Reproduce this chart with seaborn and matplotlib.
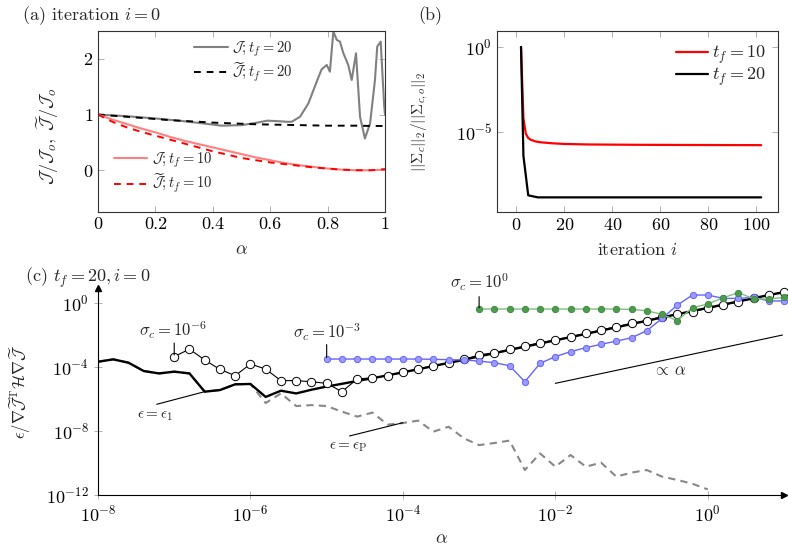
import matplotlib
matplotlib.use("Agg")
import matplotlib.pyplot as plt
import numpy as np
import seaborn as sns

# ---- panel (a): cost along the line search, iteration 0 ----
alpha_a = [0.0, 0.05, 0.1, 0.15, 0.2, 0.25, 0.3, 0.35, 0.4, 0.45, 0.5,
           0.55, 0.6, 0.65, 0.7, 0.75, 0.8, 0.85, 0.9, 0.95, 1.0]
J10 = [1.0, 0.91, 0.83, 0.75, 0.68, 0.60, 0.53, 0.47, 0.41, 0.35, 0.29,
       0.23, 0.18, 0.13, 0.09, 0.06, 0.03, 0.01, 0.0, 0.0, 0.01]
Jt10 = [1.0, 0.87, 0.77, 0.69, 0.62, 0.55, 0.48, 0.41, 0.34, 0.28, 0.22,
        0.18, 0.14, 0.11, 0.08, 0.05, 0.03, 0.01, 0.0, 0.0, 0.02]
Jt20 = [1.0, 0.98, 0.96, 0.94, 0.92, 0.90, 0.885, 0.87, 0.855, 0.845, 0.835,
        0.825, 0.82, 0.815, 0.81, 0.805, 0.80, 0.80, 0.80, 0.795, 0.795]
alpha_J20 = [0.0, 0.1, 0.2, 0.3, 0.4, 0.43, 0.5, 0.55, 0.59, 0.63, 0.66, 0.675,
             0.704, 0.733, 0.762, 0.779, 0.797, 0.808, 0.82, 0.832, 0.843,
             0.855, 0.872, 0.884, 0.899, 0.913, 0.93, 0.948, 0.965, 0.973,
             0.985, 0.997, 1.0]
J20 = [1.0, 0.97, 0.93, 0.88, 0.82, 0.80, 0.81, 0.85, 0.89, 0.88, 0.87, 0.87,
       0.96, 1.2, 1.59, 1.81, 1.89, 1.77, 2.49, 2.34, 2.31,
       2.1, 1.89, 1.62, 2.1, 0.96, 0.57, 0.84, 1.62, 2.22,
       2.31, 1.17, 1.0]
a_xticks = [0, 0.2, 0.4, 0.6, 0.8, 1.0]
a_xticklabels = ["0", "0.2", "0.4", "0.6", "0.8", "1"]
a_yticks = [0, 1, 2]

# ---- panel (b): normalised control norm per iteration (log10) ----
iter_10 = [2, 3, 4, 5, 6, 8, 10, 15, 20, 30, 50, 70, 102]
sig10_exp = [0.0, -4.2, -5.1, -5.35, -5.45, -5.55, -5.6, -5.66, -5.7,
             -5.73, -5.75, -5.76, -5.77]
iter_20 = [2, 3, 5, 9, 102]
sig20_exp = [0.0, -6.4, -8.72, -8.84, -8.84]
b_xticks = [0, 20, 40, 60, 80, 100]

# ---- panel (c): error estimates vs alpha (log10 values) ----
la_main = [-8.0, -7.8, -7.6, -7.4, -7.2, -7.0, -6.8, -6.6, -6.4, -6.2, -6.0,
           -5.8, -5.6, -5.4, -5.2, -5.0, -4.8, -4.6, -4.4, -4.2, -4.0,
           -3.8, -3.6, -3.4, -3.2, -3.0, -2.8, -2.6, -2.4, -2.2, -2.0,
           -1.8, -1.6, -1.4, -1.2, -1.0, -0.8, -0.6, -0.4, -0.2, 0.0,
           0.2, 0.4, 0.6, 0.8, 1.0]
eps1_exp = [-3.67, -3.52, -3.73, -4.25, -4.40, -4.29, -4.40, -5.54, -5.44, -5.08, -5.06,
            -5.87, -5.48, -5.65, -5.42, -5.22, -5.05, -4.87, -4.70, -4.52, -4.33,
            -4.14, -3.94, -3.74, -3.55, -3.33, -3.14, -2.93, -2.73, -2.53, -2.33,
            -2.13, -1.93, -1.72, -1.52, -1.31, -1.11, -0.90, -0.70, -0.50, -0.30,
            -0.10, 0.10, 0.30, 0.50, 0.68]
la_p = [-8.0, -7.8, -7.6, -7.4, -7.2, -7.0, -6.8, -6.6, -6.4, -6.2, -6.0,
        -5.8, -5.6, -5.4, -5.2, -5.0, -4.8, -4.6, -4.4, -4.2, -4.0,
        -3.8, -3.6, -3.4, -3.2, -3.0, -2.8, -2.6, -2.4, -2.2, -2.0,
        -1.8, -1.6, -1.4, -1.2, -1.0, -0.8, -0.6, -0.4, -0.2, 0.0]
epsP_exp = [-3.67, -3.52, -3.73, -4.25, -4.40, -4.29, -4.40, -5.54, -5.44, -5.08, -5.06,
            -6.25, -5.65, -6.44, -6.38, -6.44, -6.79, -7.10, -6.85, -7.60, -7.50,
            -7.35, -8.04, -7.73, -8.46, -8.88, -8.75, -8.60, -10.44, -9.40, -10.23,
            -9.50, -10.23, -9.98, -10.85, -10.60, -10.44, -10.85, -11.06, -11.30, -11.65]
la_s6 = la_main[5:]
s6_exp = [-3.35, -2.88, -3.56, -4.15, -4.54, -3.81, -4.13, -4.85, -4.85, -4.92,
          -5.02, -5.54, -4.75, -4.67, -4.54, -4.33, -4.13, -3.92, -3.73, -3.52,
          -3.25, -3.10, -2.90, -2.69, -2.48, -2.31, -2.10, -1.90, -1.69, -1.48,
          -1.27, -1.10, -0.85, -0.71, -0.54, -0.33, -0.13, 0.08, 0.29, 0.50, 0.71]
la_s3 = la_main[15:]
s3_exp = [-3.5, -3.5, -3.5, -3.5, -3.5, -3.5, -3.5, -3.52, -3.54, -3.56,
          -3.63, -3.73, -3.92, -4.92, -3.77, -3.35, -3.04, -2.79, -2.58, -2.38,
          -2.17, -1.73, -0.96, -0.13, 0.50, 0.50, 0.29, 0.29, 0.35, 0.13, 0.13]
la_s0 = la_main[25:]
s0_exp = [-0.375, -0.375, -0.375, -0.375, -0.375, -0.375, -0.375, -0.375, -0.375, -0.375,
          -0.40, -0.48, -0.71, -1.10, -0.29, -0.06, 0.33, 0.65, 0.27, 0.25, 0.35]
c_xticks = [1e-8, 1e-6, 1e-4, 1e-2, 1e0]
c_yticks = [1e-12, 1e-8, 1e-4, 1e0]

sns.set_style("ticks")
plt.rcParams.update({
    "font.family": ["cmr10", "DejaVu Serif"],
    "mathtext.fontset": "cm",
    "axes.formatter.use_mathtext": True,
    "axes.unicode_minus": False,
    "axes.edgecolor": "#333333",
    "axes.linewidth": 0.8,
})

fig = plt.figure(figsize=(7.88, 5.6), dpi=100)
W, H = 788.0, 560.0
ax_a = fig.add_axes([98 / W, 1 - 212 / H, 287 / W, 181 / H])
ax_b = fig.add_axes([497 / W, 1 - 212 / H, 281 / W, 181 / H])
ax_c = fig.add_axes([98 / W, 1 - 495 / H, 686 / W, 207 / H])

tick_kw = dict(direction="in", length=4, width=0.7, color="#b0b0b0",
               top=True, right=True, labelsize=13, labelcolor="black")

# ---------------- (a) ----------------
sns.lineplot(x=alpha_J20, y=J20, ax=ax_a, color="#808080", lw=1.5)
h_j20 = ax_a.lines[-1]
sns.lineplot(x=alpha_a, y=Jt20, ax=ax_a, color="black", lw=1.4, linestyle=(0, (3.5, 3)))
h_jt20 = ax_a.lines[-1]
sns.lineplot(x=alpha_a, y=J10, ax=ax_a, color="#ff8080", lw=1.5)
h_j10 = ax_a.lines[-1]
sns.lineplot(x=alpha_a, y=Jt10, ax=ax_a, color="#ff0000", lw=1.4, linestyle=(0, (3.5, 3)))
h_jt10 = ax_a.lines[-1]
ax_a.set_xlim(0, 1)
ax_a.set_ylim(-0.75, 2.5)
ax_a.set_xticks(a_xticks)
ax_a.set_xticklabels(a_xticklabels)
ax_a.set_yticks(a_yticks)
ax_a.tick_params(**tick_kw)
ax_a.set_xlabel(r"$\alpha$", fontsize=13)
ax_a.xaxis.set_label_coords(0.5, -0.165)
ax_a.set_ylabel(r"$\mathcal{J}/\mathcal{J}_o,\ \widetilde{\mathcal{J}}/\mathcal{J}_o$", fontsize=13)
ax_a.yaxis.set_label_coords(-0.13, 0.42)
leg_kw = dict(frameon=False, fontsize=10.5, handlelength=2.3, handletextpad=0.3,
              labelspacing=0.15, borderpad=0, borderaxespad=0)
leg1 = ax_a.legend([h_j20, h_jt20],
                   [r"$\mathcal{J}; t_f = 20$", r"$\widetilde{\mathcal{J}}; t_f = 20$"],
                   loc="upper left", bbox_to_anchor=(0.335, 0.955), **leg_kw)
ax_a.add_artist(leg1)
ax_a.legend([h_j10, h_jt10],
            [r"$\mathcal{J}; t_f = 10$", r"$\widetilde{\mathcal{J}}; t_f = 10$"],
            loc="upper left", bbox_to_anchor=(0.055, 0.34), **leg_kw)
fig.text(22 / W, 1 - 16 / H, r"(a) iteration $i = 0$", fontsize=13, va="center")

# ---------------- (b) ----------------
ax_b.set_yscale("log")
sns.lineplot(x=iter_10, y=np.power(10.0, sig10_exp), ax=ax_b, color="#ff0000", lw=1.6,
             label=r"$t_f = 10$")
sns.lineplot(x=iter_20, y=np.power(10.0, sig20_exp), ax=ax_b, color="black", lw=1.6,
             label=r"$t_f = 20$")
ax_b.set_xlim(-8, 109)
ax_b.set_ylim(10 ** -9.7, 10 ** 0.94)
ax_b.set_xticks(b_xticks)
ax_b.set_yticks([1e-5, 1e0])
ax_b.yaxis.set_minor_locator(matplotlib.ticker.NullLocator())
ax_b.tick_params(**tick_kw)
ax_b.set_xlabel(r"iteration $i$", fontsize=13)
ax_b.xaxis.set_label_coords(0.5, -0.165)
ax_b.set_ylabel(r"$||\Sigma_c||_2/||\Sigma_{c,o}||_2$", fontsize=11)
ax_b.yaxis.set_label_coords(-0.24, 0.5)
ax_b.legend(loc="upper right", bbox_to_anchor=(0.955, 0.93), frameon=False, fontsize=13,
            handlelength=1.8, handletextpad=0.2, labelspacing=0.0, borderpad=0,
            borderaxespad=0)
fig.text(418 / W, 1 - 16 / H, "(b)", fontsize=13, va="center")

# ---------------- (c) ----------------
ax_c.set_xscale("log")
ax_c.set_yscale("log")
sns.lineplot(x=np.power(10.0, la_p), y=np.power(10.0, epsP_exp), ax=ax_c, color="#888888",
             lw=1.5, linestyle=(0, (3.5, 2.5)))
sns.lineplot(x=np.power(10.0, la_main), y=np.power(10.0, eps1_exp), ax=ax_c, color="black",
             lw=1.7)
sns.lineplot(x=np.power(10.0, la_s6), y=np.power(10.0, s6_exp), ax=ax_c, color="black",
             lw=0.8, marker="o", markersize=6, markerfacecolor="white",
             markeredgecolor="black", markeredgewidth=0.7, clip_on=False)
sns.lineplot(x=np.power(10.0, la_s3), y=np.power(10.0, s3_exp), ax=ax_c, color="#6464ff",
             lw=1.0, marker="o", markersize=4.5, markerfacecolor="#9a9aff",
             markeredgecolor="#6464ff", markeredgewidth=0.7, clip_on=False)
sns.lineplot(x=np.power(10.0, la_s0), y=np.power(10.0, s0_exp), ax=ax_c, color="#7fc07f",
             lw=1.0, marker="o", markersize=4.5, markerfacecolor="#4e9a4e",
             markeredgecolor="#3f8a3f", markeredgewidth=0.7, clip_on=False)
ax_c.set_xlim(1e-8, 10 ** 1.0)
ax_c.set_ylim(1e-12, 10 ** 0.94)
ax_c.set_xticks(c_xticks)
ax_c.set_yticks(c_yticks)
ax_c.xaxis.set_minor_locator(matplotlib.ticker.NullLocator())
ax_c.yaxis.set_minor_locator(matplotlib.ticker.NullLocator())
ax_c.tick_params(direction="inout", length=6, width=0.7, color="#b0b0b0",
                 labelsize=13, labelcolor="black")
for s in ["top", "right"]:
    ax_c.spines[s].set_visible(False)
for s in ["left", "bottom"]:
    ax_c.spines[s].set_color("black")
ax_c.plot(1, 0, marker=">", color="black", ms=4, transform=ax_c.transAxes, clip_on=False)
ax_c.plot(0, 1, marker="^", color="black", ms=4, transform=ax_c.transAxes, clip_on=False)
ax_c.set_xlabel(r"$\alpha$", fontsize=13)
ax_c.xaxis.set_label_coords(0.5, -0.175)
ax_c.set_ylabel(r"$\epsilon/\nabla\widetilde{\mathcal{J}}^{\mathrm{T}}\mathcal{H}\nabla\widetilde{\mathcal{J}}$",
                fontsize=12)
ax_c.yaxis.set_label_coords(-0.095, 0.5)

line_kw = dict(arrowstyle="-", color="black", lw=0.8, shrinkA=0, shrinkB=0)


def note(text, xt, yt, x0, y0, x1, y1, size=12):
    ax_c.annotate("", xy=(10 ** x1, 10 ** y1), xytext=(10 ** x0, 10 ** y0),
                  arrowprops=line_kw, annotation_clip=False)
    ax_c.text(10 ** xt, 10 ** yt, text, fontsize=size, ha="center", va="center",
              clip_on=False)


note(r"$\sigma_c = 10^{-6}$", -7.02, -1.69, -7.0, -2.5, -7.0, -3.25)
note(r"$\sigma_c = 10^{-3}$", -5.0, -1.81, -5.0, -2.6, -5.0, -3.4)
note(r"$\sigma_c = 10^{0}$", -3.0, 1.3, -3.0, 0.4, -3.0, -0.3)
note(r"$\epsilon = \epsilon_{\mathrm{1}}$", -7.25, -7.06, -7.23, -6.33, -6.6, -5.54, size=11)
note(r"$\epsilon = \epsilon_{\mathrm{P}}$", -4.72, -8.98, -4.7, -8.31, -4.0, -7.48, size=11)
note(r"$\propto\,\alpha$", -0.5, -4.19, -2.0, -5.02, 0.98, -2.0)
fig.text(25 / W, 1 - 278 / H, r"(c) $t_f = 20, i = 0$", fontsize=13, va="center")

fig.savefig("out.png", dpi=100)
